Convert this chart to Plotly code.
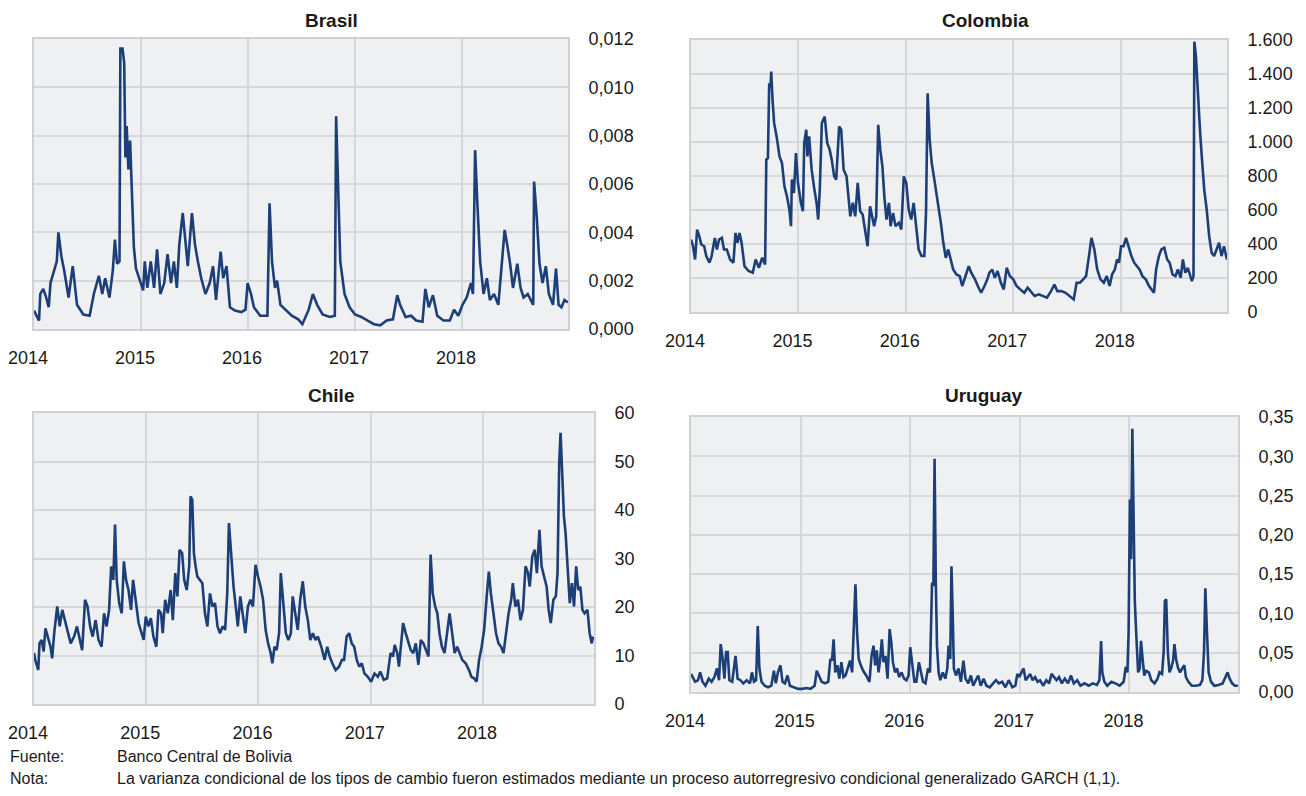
import plotly.graph_objects as go

# ---- data (decimal years, conditional variance) ----------------------------

brasil_t = [
    2014.000, 2014.047, 2014.059, 2014.087, 2014.114, 2014.138, 2014.154, 2014.185, 2014.213, 2014.228,
    2014.256, 2014.283, 2014.323, 2014.362, 2014.402, 2014.461, 2014.520, 2014.559, 2014.606, 2014.638,
    2014.665, 2014.705, 2014.736, 2014.756, 2014.776, 2014.799, 2014.807, 2014.827, 2014.843, 2014.854,
    2014.866, 2014.882, 2014.898, 2014.913, 2014.933, 2014.953, 2014.992, 2015.020, 2015.035, 2015.059,
    2015.091, 2015.122, 2015.150, 2015.181, 2015.217, 2015.248, 2015.280, 2015.307, 2015.335, 2015.358,
    2015.390, 2015.413, 2015.437, 2015.476, 2015.504, 2015.531, 2015.563, 2015.602, 2015.642, 2015.673,
    2015.701, 2015.744, 2015.768, 2015.799, 2015.831, 2015.878, 2015.937, 2015.976, 2015.996, 2016.028,
    2016.055, 2016.114, 2016.181, 2016.201, 2016.224, 2016.252, 2016.272, 2016.303, 2016.350, 2016.409,
    2016.469, 2016.508, 2016.567, 2016.606, 2016.646, 2016.697, 2016.764, 2016.811, 2016.823, 2016.843,
    2016.862, 2016.902, 2016.949, 2017.000, 2017.059, 2017.118, 2017.177, 2017.236, 2017.295, 2017.354,
    2017.394, 2017.421, 2017.472, 2017.524, 2017.571, 2017.630, 2017.657, 2017.689, 2017.728, 2017.768,
    2017.827, 2017.886, 2017.925, 2017.965, 2018.004, 2018.043, 2018.083, 2018.102, 2018.122, 2018.142,
    2018.169, 2018.201, 2018.232, 2018.260, 2018.299, 2018.339, 2018.366, 2018.398, 2018.425, 2018.449,
    2018.476, 2018.516, 2018.547, 2018.575, 2018.614, 2018.665, 2018.673, 2018.697, 2018.724, 2018.752,
    2018.783, 2018.811, 2018.850, 2018.878, 2018.902, 2018.929, 2018.957, 2018.988,
]
brasil_v = [
    0.00076, 0.00035, 0.00145, 0.00166, 0.0013, 0.0009, 0.0019, 0.0024, 0.0028, 0.0040,
    0.0030, 0.0024, 0.0013, 0.0026, 0.0010, 0.0006, 0.00055, 0.00145, 0.0022, 0.00145,
    0.0021, 0.0013, 0.0024, 0.0037, 0.0027, 0.0028, 0.0116, 0.0116, 0.0110, 0.0071,
    0.0084, 0.0066, 0.0078, 0.0059, 0.0034, 0.0025, 0.0020, 0.0016, 0.0028, 0.0017,
    0.0028, 0.0017, 0.0033, 0.00145, 0.0019, 0.0031, 0.0019, 0.0028, 0.0017, 0.0035,
    0.0048, 0.0036, 0.0026, 0.0048, 0.0035, 0.0028, 0.0021, 0.00145, 0.0019, 0.0026,
    0.0012, 0.0032, 0.0021, 0.0026, 0.0009, 0.00076, 0.0007, 0.0008, 0.0019, 0.00145,
    0.0009, 0.00055, 0.00055, 0.0052, 0.0028, 0.0017, 0.0020, 0.0010, 0.0008, 0.00055,
    0.0004, 0.0002, 0.0008, 0.00145, 0.0010, 0.0006, 0.0005, 0.00055, 0.0088, 0.0052,
    0.0028, 0.00145, 0.0009, 0.0006, 0.0005, 0.00035, 0.0002, 0.00015, 0.00035, 0.0004,
    0.0014, 0.0010, 0.0005, 0.00055, 0.00035, 0.0003, 0.00166, 0.0009, 0.0014, 0.00055,
    0.00035, 0.00035, 0.0008, 0.00055, 0.0010, 0.0013, 0.0019, 0.00145, 0.0074, 0.0053,
    0.0028, 0.00145, 0.0021, 0.0012, 0.00145, 0.0010, 0.0024, 0.0041, 0.0034, 0.0027,
    0.0017, 0.0027, 0.0017, 0.0013, 0.00145, 0.0010, 0.0061, 0.0047, 0.0027, 0.0019,
    0.0026, 0.00145, 0.0010, 0.0025, 0.0010, 0.0009, 0.0012, 0.0011,
]

colombia_t = [
    2014.000, 2014.019, 2014.038, 2014.057, 2014.077, 2014.096, 2014.123, 2014.142, 2014.172, 2014.192,
    2014.222, 2014.241, 2014.261, 2014.287, 2014.307, 2014.333, 2014.364, 2014.395, 2014.414, 2014.433,
    2014.452, 2014.471, 2014.498, 2014.536, 2014.575, 2014.602, 2014.632, 2014.663, 2014.690, 2014.701,
    2014.716, 2014.728, 2014.739, 2014.747, 2014.759, 2014.774, 2014.797, 2014.824, 2014.847, 2014.870,
    2014.893, 2014.916, 2014.931, 2014.939, 2014.958, 2014.977, 2014.996, 2015.023, 2015.042, 2015.054,
    2015.073, 2015.084, 2015.100, 2015.123, 2015.149, 2015.169, 2015.184, 2015.199, 2015.218, 2015.245,
    2015.268, 2015.291, 2015.310, 2015.333, 2015.352, 2015.379, 2015.398, 2015.421, 2015.448, 2015.467,
    2015.483, 2015.506, 2015.529, 2015.552, 2015.575, 2015.598, 2015.621, 2015.644, 2015.667, 2015.686,
    2015.705, 2015.724, 2015.743, 2015.762, 2015.782, 2015.801, 2015.820, 2015.843, 2015.858, 2015.881,
    2015.904, 2015.935, 2015.958, 2015.981, 2016.004, 2016.027, 2016.050, 2016.073, 2016.096, 2016.119,
    2016.146, 2016.172, 2016.188, 2016.203, 2016.222, 2016.241, 2016.261, 2016.280, 2016.303, 2016.326,
    2016.349, 2016.372, 2016.395, 2016.418, 2016.441, 2016.471, 2016.502, 2016.525, 2016.556, 2016.586,
    2016.609, 2016.644, 2016.670, 2016.701, 2016.732, 2016.759, 2016.778, 2016.805, 2016.828, 2016.854,
    2016.885, 2016.912, 2016.939, 2016.969, 2017.000, 2017.031, 2017.065, 2017.103, 2017.134, 2017.161,
    2017.199, 2017.238, 2017.276, 2017.314, 2017.352, 2017.383, 2017.410, 2017.448, 2017.487, 2017.525,
    2017.563, 2017.590, 2017.621, 2017.651, 2017.678, 2017.705, 2017.728, 2017.755, 2017.782, 2017.812,
    2017.843, 2017.870, 2017.897, 2017.920, 2017.946, 2017.966, 2017.985, 2018.004, 2018.027, 2018.050,
    2018.073, 2018.100, 2018.126, 2018.149, 2018.176, 2018.203, 2018.234, 2018.264, 2018.291, 2018.310,
    2018.330, 2018.356, 2018.379, 2018.406, 2018.433, 2018.456, 2018.483, 2018.510, 2018.533, 2018.559,
    2018.579, 2018.602, 2018.625, 2018.648, 2018.663, 2018.678, 2018.686, 2018.701, 2018.716, 2018.740,
    2018.755, 2018.778, 2018.801, 2018.824, 2018.847, 2018.870, 2018.893, 2018.916, 2018.939, 2018.962,
    2018.989,
]
colombia_v = [
    426, 387, 309, 485, 446, 397, 387, 329, 290, 329,
    436, 368, 426, 436, 368, 368, 309, 290, 465, 407,
    465, 407, 270, 241, 231, 309, 260, 319, 280, 896,
    905, 1346, 1316, 1414, 1248, 1111, 1033, 915, 876, 739,
    681, 602, 505, 779, 700, 935, 759, 642, 593, 994,
    1072, 915, 1033, 837, 720, 642, 544, 720, 1111, 1150,
    994, 955, 896, 798, 779, 1091, 1072, 837, 798, 642,
    563, 642, 563, 759, 593, 573, 485, 387, 622, 563,
    505, 563, 1101, 955, 857, 671, 544, 642, 505, 583,
    505, 524, 485, 798, 759, 602, 544, 642, 485, 368,
    329, 329, 583, 1287, 1013, 876, 798, 720, 622, 524,
    407, 319, 368, 309, 250, 221, 211, 153, 211, 270,
    231, 192, 153, 113, 153, 192, 231, 250, 201, 241,
    172, 133, 260, 211, 192, 153, 133, 113, 143, 123,
    94, 104, 94, 84, 123, 162, 123, 123, 113, 94,
    74, 172, 172, 192, 211, 329, 436, 368, 250, 192,
    172, 211, 153, 221, 250, 309, 290, 387, 387, 436,
    387, 329, 290, 270, 250, 211, 192, 153, 133, 113,
    250, 329, 368, 378, 309, 290, 221, 211, 250, 201,
    309, 231, 260, 211, 182, 211, 1590, 1502, 1307, 1052,
    915, 720, 602, 446, 348, 329, 368, 407, 329, 387,
    309,
]

chile_t = [
    2014.000, 2014.011, 2014.038, 2014.049, 2014.068, 2014.086, 2014.102, 2014.124, 2014.147, 2014.162,
    2014.180, 2014.207, 2014.229, 2014.252, 2014.274, 2014.301, 2014.327, 2014.357, 2014.383, 2014.402,
    2014.429, 2014.455, 2014.477, 2014.500, 2014.523, 2014.549, 2014.575, 2014.602, 2014.624, 2014.647,
    2014.669, 2014.688, 2014.707, 2014.722, 2014.737, 2014.759, 2014.782, 2014.801, 2014.820, 2014.842,
    2014.865, 2014.883, 2014.906, 2014.932, 2014.959, 2014.977, 2014.996, 2015.019, 2015.041, 2015.064,
    2015.090, 2015.109, 2015.132, 2015.147, 2015.169, 2015.192, 2015.218, 2015.237, 2015.259, 2015.278,
    2015.297, 2015.320, 2015.338, 2015.361, 2015.383, 2015.395, 2015.410, 2015.425, 2015.440, 2015.455,
    2015.477, 2015.500, 2015.523, 2015.545, 2015.568, 2015.590, 2015.613, 2015.635, 2015.658, 2015.680,
    2015.703, 2015.722, 2015.737, 2015.756, 2015.778, 2015.801, 2015.816, 2015.838, 2015.861, 2015.883,
    2015.906, 2015.929, 2015.951, 2015.974, 2015.996, 2016.019, 2016.041, 2016.064, 2016.086, 2016.109,
    2016.124, 2016.143, 2016.162, 2016.184, 2016.199, 2016.222, 2016.244, 2016.267, 2016.289, 2016.305,
    2016.327, 2016.350, 2016.372, 2016.395, 2016.417, 2016.440, 2016.462, 2016.485, 2016.508, 2016.530,
    2016.560, 2016.590, 2016.613, 2016.635, 2016.658, 2016.688, 2016.718, 2016.744, 2016.763, 2016.786,
    2016.808, 2016.831, 2016.853, 2016.876, 2016.898, 2016.921, 2016.944, 2016.974, 2017.004, 2017.034,
    2017.064, 2017.086, 2017.117, 2017.147, 2017.177, 2017.199, 2017.214, 2017.237, 2017.252, 2017.271,
    2017.289, 2017.312, 2017.335, 2017.357, 2017.380, 2017.402, 2017.425, 2017.447, 2017.470, 2017.492,
    2017.515, 2017.534, 2017.553, 2017.575, 2017.594, 2017.613, 2017.635, 2017.658, 2017.680, 2017.703,
    2017.726, 2017.748, 2017.771, 2017.793, 2017.816, 2017.846, 2017.876, 2017.898, 2017.921, 2017.944,
    2017.966, 2017.989, 2018.011, 2018.034, 2018.053, 2018.071, 2018.094, 2018.117, 2018.139, 2018.162,
    2018.184, 2018.207, 2018.229, 2018.252, 2018.267, 2018.289, 2018.312, 2018.335, 2018.357, 2018.380,
    2018.402, 2018.417, 2018.440, 2018.462, 2018.481, 2018.504, 2018.523, 2018.545, 2018.568, 2018.586,
    2018.605, 2018.628, 2018.650, 2018.665, 2018.680, 2018.692, 2018.707, 2018.722, 2018.737, 2018.756,
    2018.774, 2018.793, 2018.812, 2018.831, 2018.850, 2018.868, 2018.887, 2018.906, 2018.932, 2018.951,
    2018.970, 2018.981,
]
chile_v = [
    10.5, 9.1, 7.0, 12.5, 13.2, 10.8, 15.6, 13.9, 11.8, 9.4,
    14.6, 20.1, 16.0, 19.4, 17.3, 14.6, 12.5, 13.9, 16.0, 13.9,
    11.1, 21.5, 20.1, 16.0, 13.9, 17.3, 13.2, 11.8, 18.7, 16.0,
    19.4, 28.4, 25.6, 37.0, 25.6, 20.8, 18.7, 29.4, 25.6, 23.5,
    19.4, 25.6, 21.5, 16.7, 14.6, 13.2, 18.0, 16.0, 17.7, 13.9,
    11.8, 19.4, 18.7, 14.6, 21.5, 18.7, 23.5, 17.3, 27.0, 22.2,
    31.8, 31.1, 25.6, 23.5, 28.4, 42.8, 42.1, 31.1, 28.4, 26.3,
    25.6, 24.9, 18.7, 16.0, 22.8, 20.1, 20.8, 16.0, 14.6, 16.0,
    15.3, 22.8, 37.3, 30.4, 24.2, 19.4, 16.0, 22.2, 18.7, 14.6,
    20.1, 21.5, 20.1, 28.7, 26.3, 24.2, 21.5, 15.3, 12.5, 10.5,
    8.4, 11.8, 11.1, 14.6, 27.0, 20.1, 14.6, 13.2, 14.6, 22.2,
    18.7, 15.3, 21.5, 25.3, 20.1, 17.3, 13.2, 14.6, 13.2, 13.9,
    11.8, 9.1, 11.8, 9.8, 8.4, 7.0, 7.7, 9.1, 9.1, 13.9,
    14.6, 12.5, 11.8, 9.1, 7.7, 8.4, 6.3, 5.6, 4.6, 6.3,
    5.6, 6.7, 5.0, 5.3, 10.5, 9.8, 12.2, 10.5, 7.7, 12.5,
    16.7, 14.6, 12.5, 11.1, 10.5, 12.5, 8.1, 13.2, 12.5, 11.1,
    9.8, 30.8, 22.8, 20.1, 18.7, 14.6, 11.8, 10.5, 14.6, 18.7,
    14.6, 10.5, 11.8, 10.5, 9.1, 8.4, 7.0, 5.6, 5.3, 4.6,
    9.1, 11.8, 15.3, 22.2, 27.3, 22.8, 18.7, 14.6, 12.5, 11.8,
    10.5, 14.6, 18.7, 21.5, 24.9, 20.1, 21.5, 17.3, 19.4, 28.4,
    27.0, 24.2, 30.4, 31.8, 27.0, 35.9, 28.4, 26.3, 24.2, 19.4,
    16.7, 21.5, 22.2, 27.0, 49.7, 55.9, 44.9, 38.7, 35.2, 28.4,
    20.8, 24.9, 20.1, 28.4, 23.5, 24.2, 19.4, 18.7, 19.4, 14.6,
    12.5, 13.9,
]

uruguay_t = [
    2014.000, 2014.019, 2014.038, 2014.064, 2014.083, 2014.105, 2014.132, 2014.162, 2014.188, 2014.214,
    2014.237, 2014.256, 2014.271, 2014.289, 2014.305, 2014.320, 2014.335, 2014.350, 2014.376, 2014.406,
    2014.425, 2014.451, 2014.477, 2014.508, 2014.538, 2014.556, 2014.575, 2014.594, 2014.609, 2014.624,
    2014.643, 2014.673, 2014.703, 2014.733, 2014.756, 2014.774, 2014.793, 2014.816, 2014.835, 2014.857,
    2014.880, 2014.902, 2014.940, 2014.977, 2015.015, 2015.053, 2015.090, 2015.128, 2015.147, 2015.169,
    2015.192, 2015.222, 2015.252, 2015.271, 2015.286, 2015.301, 2015.316, 2015.335, 2015.353, 2015.372,
    2015.391, 2015.410, 2015.432, 2015.451, 2015.470, 2015.485, 2015.500, 2015.515, 2015.530, 2015.549,
    2015.571, 2015.598, 2015.628, 2015.647, 2015.665, 2015.680, 2015.695, 2015.711, 2015.726, 2015.741,
    2015.756, 2015.774, 2015.793, 2015.812, 2015.827, 2015.842, 2015.861, 2015.880, 2015.898, 2015.921,
    2015.944, 2015.966, 2015.985, 2016.000, 2016.019, 2016.038, 2016.056, 2016.079, 2016.098, 2016.117,
    2016.139, 2016.162, 2016.180, 2016.199, 2016.211, 2016.222, 2016.233, 2016.244, 2016.259, 2016.274,
    2016.297, 2016.320, 2016.338, 2016.350, 2016.365, 2016.376, 2016.387, 2016.398, 2016.417, 2016.440,
    2016.462, 2016.485, 2016.504, 2016.530, 2016.553, 2016.575, 2016.598, 2016.620, 2016.643, 2016.669,
    2016.695, 2016.726, 2016.756, 2016.782, 2016.808, 2016.838, 2016.868, 2016.898, 2016.932, 2016.959,
    2016.977, 2016.996, 2017.015, 2017.034, 2017.053, 2017.071, 2017.094, 2017.117, 2017.139, 2017.162,
    2017.184, 2017.214, 2017.241, 2017.267, 2017.289, 2017.312, 2017.335, 2017.357, 2017.383, 2017.410,
    2017.440, 2017.466, 2017.492, 2017.523, 2017.553, 2017.590, 2017.628, 2017.665, 2017.703, 2017.726,
    2017.741, 2017.752, 2017.771, 2017.797, 2017.835, 2017.872, 2017.910, 2017.947, 2017.966, 2017.981,
    2017.992, 2018.004, 2018.015, 2018.026, 2018.038, 2018.049, 2018.064, 2018.079, 2018.094, 2018.105,
    2018.120, 2018.135, 2018.154, 2018.177, 2018.199, 2018.229, 2018.256, 2018.274, 2018.297, 2018.312,
    2018.323, 2018.335, 2018.350, 2018.365, 2018.380, 2018.398, 2018.410, 2018.425, 2018.444, 2018.462,
    2018.481, 2018.500, 2018.515, 2018.538, 2018.568, 2018.605, 2018.643, 2018.665, 2018.680, 2018.692,
    2018.707, 2018.722, 2018.744, 2018.774, 2018.812, 2018.850, 2018.876, 2018.895, 2018.914, 2018.936,
    2018.962, 2018.989,
]
uruguay_v = [
    0.023, 0.017, 0.013, 0.015, 0.025, 0.013, 0.008, 0.017, 0.013, 0.019,
    0.030, 0.015, 0.061, 0.042, 0.017, 0.051, 0.051, 0.015, 0.013, 0.046,
    0.017, 0.015, 0.011, 0.015, 0.011, 0.025, 0.013, 0.015, 0.084, 0.030,
    0.013, 0.008, 0.006, 0.008, 0.027, 0.011, 0.025, 0.034, 0.013, 0.011,
    0.021, 0.008, 0.006, 0.004, 0.004, 0.005, 0.004, 0.008, 0.027, 0.021,
    0.013, 0.011, 0.013, 0.042, 0.040, 0.067, 0.025, 0.034, 0.017, 0.038,
    0.019, 0.021, 0.030, 0.040, 0.025, 0.076, 0.137, 0.076, 0.042, 0.034,
    0.027, 0.021, 0.013, 0.046, 0.059, 0.034, 0.053, 0.025, 0.042, 0.067,
    0.038, 0.046, 0.017, 0.080, 0.063, 0.038, 0.025, 0.030, 0.019, 0.025,
    0.017, 0.015, 0.021, 0.057, 0.034, 0.013, 0.013, 0.038, 0.025, 0.013,
    0.011, 0.030, 0.025, 0.139, 0.135, 0.297, 0.143, 0.059, 0.025, 0.015,
    0.025, 0.017, 0.030, 0.059, 0.042, 0.160, 0.101, 0.030, 0.021, 0.030,
    0.013, 0.040, 0.017, 0.011, 0.021, 0.008, 0.015, 0.021, 0.008, 0.017,
    0.008, 0.006, 0.011, 0.015, 0.011, 0.013, 0.006, 0.015, 0.006, 0.008,
    0.023, 0.019, 0.025, 0.030, 0.015, 0.019, 0.023, 0.015, 0.019, 0.013,
    0.015, 0.008, 0.015, 0.011, 0.023, 0.019, 0.015, 0.019, 0.011, 0.017,
    0.011, 0.021, 0.011, 0.015, 0.008, 0.011, 0.008, 0.011, 0.009, 0.015,
    0.065, 0.025, 0.013, 0.008, 0.013, 0.011, 0.008, 0.013, 0.032, 0.025,
    0.076, 0.245, 0.169, 0.335, 0.198, 0.114, 0.067, 0.025, 0.030, 0.065,
    0.042, 0.021, 0.027, 0.025, 0.015, 0.011, 0.017, 0.025, 0.023, 0.051,
    0.116, 0.118, 0.051, 0.025, 0.030, 0.040, 0.061, 0.042, 0.030, 0.025,
    0.030, 0.034, 0.019, 0.013, 0.008, 0.008, 0.009, 0.015, 0.051, 0.132,
    0.076, 0.025, 0.013, 0.008, 0.009, 0.011, 0.019, 0.025, 0.017, 0.011,
    0.008, 0.008,
]

years = [2014, 2015, 2016, 2017, 2018]
year_labels = ["2014", "2015", "2016", "2017", "2018"]

fuente = "Banco Central de Bolivia"
nota = ("La varianza condicional de los tipos de cambio fueron estimados mediante un "
        "proceso autorregresivo condicional generalizado GARCH (1,1).")

# ---- style ------------------------------------------------------------------

FONT = "Liberation Sans, Arial, sans-serif"
LINE_COLOR = "#1d3f77"
GRID_COLOR = "#d6d7db"
FRAME_COLOR = "#d0d1d5"
PLOT_BG = "#eff0f2"

# the page body adds an 8px margin around the figure, so the figure is
# shrunk by that and every window-pixel position below is shifted back
PAGE_MARGIN = 8
W, H = 1306 - 2 * PAGE_MARGIN, 796 - 2 * PAGE_MARGIN


def px(x):
    return (x - PAGE_MARGIN) / W


def py(y):
    return 1 - (y - PAGE_MARGIN) / H


# box = plot area in window pixels (left, top, right, bottom); title = (centre x, top y)
panels = [
    dict(title="Brasil", t=brasil_t, v=brasil_v, box=(34, 39, 568, 329),
         title_xy=(331, 8), yrange=[0, 0.012], dtick=0.002, fmt=".3f"),
    dict(title="Colombia", t=colombia_t, v=colombia_v, box=(691, 40, 1227, 312),
         title_xy=(985, 8), yrange=[0, 1600], dtick=200, fmt=",d"),
    dict(title="Chile", t=chile_t, v=chile_v, box=(34, 413, 594, 704),
         title_xy=(331, 383), yrange=[0, 60], dtick=10, fmt="d"),
    dict(title="Uruguay", t=uruguay_t, v=uruguay_v, box=(691, 417, 1238, 692),
         title_xy=(984, 383), yrange=[0, 0.35], dtick=0.05, fmt=".2f"),
]

fig = go.Figure()
annotations = []
layout_axes = {}

for i, p in enumerate(panels, start=1):
    assert len(p["t"]) == len(p["v"]), p["title"]
    x0, y0, x1, y1 = p["box"]
    xname = "x" if i == 1 else f"x{i}"
    yname = "y" if i == 1 else f"y{i}"

    fig.add_trace(go.Scatter(
        x=p["t"], y=p["v"], mode="lines",
        line=dict(color=LINE_COLOR, width=2.6),
        xaxis=xname, yaxis=yname, showlegend=False,
        hovertemplate="%{y}<extra>" + p["title"] + "</extra>",
    ))

    layout_axes["xaxis" if i == 1 else f"xaxis{i}"] = dict(
        domain=[px(x0), px(x1)], anchor=yname, automargin=False,
        range=[2014.0, 2018.99], tickvals=years, ticktext=year_labels,
        showgrid=True, gridcolor=GRID_COLOR, gridwidth=1.6,
        showline=True, linecolor=FRAME_COLOR, linewidth=2, mirror=True,
        zeroline=False, ticks="", ticklabeloverflow="allow",
        tickfont=dict(family=FONT, size=18, color="#1a1a1a"),
        ticklabelstandoff=11, ticklabelshift=-6,
    )
    layout_axes["yaxis" if i == 1 else f"yaxis{i}"] = dict(
        domain=[py(y1), py(y0)], anchor=xname, side="right",
        automargin=False,
        range=p["yrange"], dtick=p["dtick"], tick0=0, tickformat=p["fmt"],
        showgrid=True, gridcolor=GRID_COLOR, gridwidth=1.6,
        showline=True, linecolor=FRAME_COLOR, linewidth=2, mirror=True,
        zeroline=False, ticks="", ticklabeloverflow="allow",
        tickfont=dict(family=FONT, size=18, color="#1a1a1a"),
        ticklabelstandoff=15,
    )

    tx, ty = p["title_xy"]
    annotations.append(dict(
        text=f"<b>{p['title']}</b>", xref="paper", yref="paper",
        x=px(tx), y=py(ty),
        xanchor="center", yanchor="top", showarrow=False,
        font=dict(family=FONT, size=19, color="#1a1a1a"),
    ))

# footer notes
for label, text, ypx in [("Fuente:", fuente, 756), ("Nota:", nota, 778)]:
    annotations.append(dict(
        text=label, xref="paper", yref="paper", x=px(8), y=py(ypx),
        xanchor="left", yanchor="middle", showarrow=False,
        font=dict(family=FONT, size=16, color="#1a1a1a"),
    ))
    annotations.append(dict(
        text=text, xref="paper", yref="paper", x=px(115), y=py(ypx),
        xanchor="left", yanchor="middle", showarrow=False,
        font=dict(family=FONT, size=16, color="#1a1a1a"),
    ))

fig.update_layout(
    width=W, height=H, autosize=False,
    margin=dict(l=0, r=0, t=0, b=0, pad=0),
    paper_bgcolor="white", plot_bgcolor=PLOT_BG,
    separators=",.",
    showlegend=False,
    font=dict(family=FONT, color="#1a1a1a"),
    annotations=annotations,
    **layout_axes,
)

fig.write_html("out.html")
